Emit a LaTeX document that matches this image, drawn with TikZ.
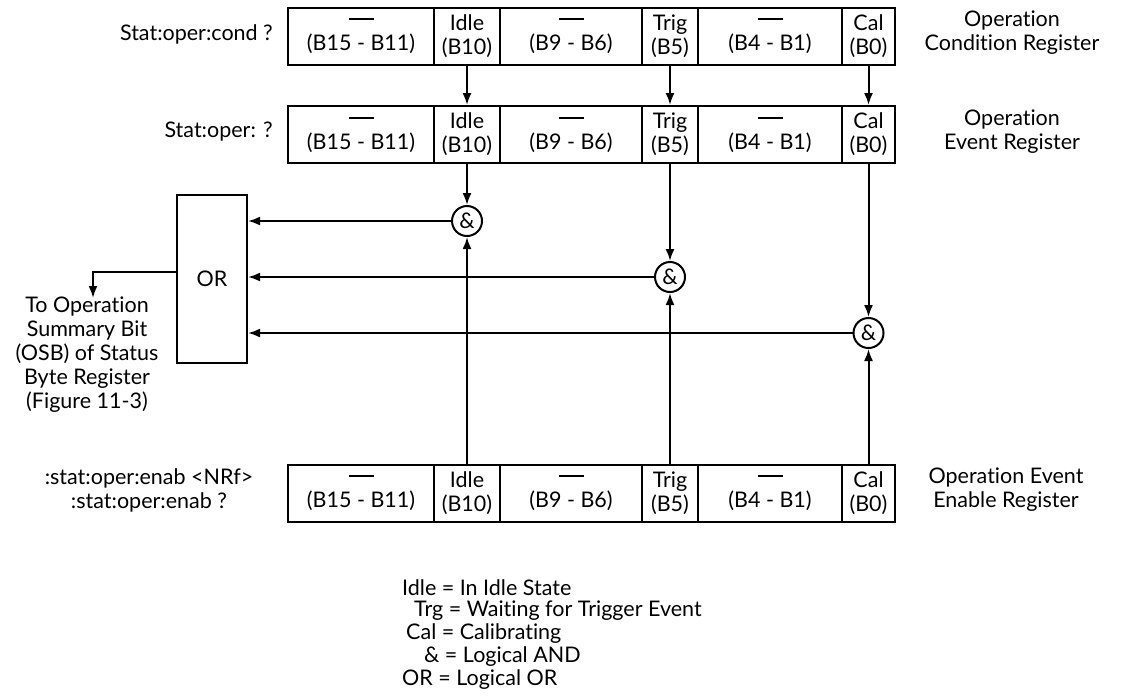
\documentclass[tikz,border=0pt]{standalone}
\usepackage{fontspec}
\setmainfont{Lato}[Ligatures=CommonOff]
\usetikzlibrary{arrows.meta}
\newcommand{\emdash}{\rule[0.3em]{25pt}{1.8pt}}
\begin{document}
\begin{tikzpicture}[x=1pt,y=-1pt,
  every node/.style={font=\fontsize{21.5}{24}\selectfont, inner sep=0pt},
  cell/.style={draw, line width=2pt, minimum height=57pt, align=center},
  andgate/.style={draw, circle, line width=2pt, minimum size=30pt},
  arr/.style={line width=2pt, -{Latex[length=12pt,width=9pt]}}]
\useasboundingbox (0,0) rectangle (1126,697);
% registers
\foreach \r/\y in {1/36, 2/134.5, 3/493}{
  \node[cell, minimum width=146pt] (r\r a) at (361,\y) {\emdash\\(B15 - B11)};
  \node[cell, minimum width=66pt]  (r\r b) at (467,\y) {Idle\\(B10)};
  \node[cell, minimum width=142pt] (r\r c) at (571,\y) {\emdash\\(B9 - B6)};
  \node[cell, minimum width=56pt]  (r\r d) at (670,\y) {Trig\\(B5)};
  \node[cell, minimum width=144pt] (r\r e) at (770,\y) {\emdash\\(B4 - B1)};
  \node[cell, minimum width=53pt]  (r\r f) at (868.5,\y) {Cal\\(B0)};
}
% labels
\node[anchor=east] (l1) at (273,34) {Stat:oper:cond ?};
\node[anchor=east] (l2) at (273,132) {Stat:oper: ?};
\node[align=center] (l3) at (149,490) {:stat:oper:enab <NRf>\\:stat:oper:enab ?};
\node[align=center] (n1) at (1012,33) {Operation\\Condition Register};
\node[align=center] (n2) at (1012,132) {Operation\\Event Register};
\node[align=center] (n3) at (1006,490) {Operation Event\\Enable Register};
% gates
\node[andgate] (g1) at (467,221) {\&};
\node[andgate] (g2) at (670,277) {\&};
\node[andgate] (g3) at (868.5,333) {\&};
\node[draw, line width=2pt, minimum width=70pt, minimum height=168pt] (or) at (212,279) {OR};
% connectors
\draw[arr] (r1b.south) -- (r2b.north);
\draw[arr] (r1d.south) -- (r2d.north);
\draw[arr] (r1f.south) -- (r2f.north);
\draw[arr] (r2b.south) -- (g1.north);
\draw[arr] (r2d.south) -- (g2.north);
\draw[arr] (r2f.south) -- (g3.north);
\draw[arr] (r3b.north) -- (g1.south);
\draw[arr] (r3d.north) -- (g2.south);
\draw[arr] (r3f.north) -- (g3.south);
\draw[arr] (g1.west) -- (g1.west -| or.east);
\draw[arr] (g2.west) -- (g2.west -| or.east);
\draw[arr] (g3.west) -- (g3.west -| or.east);
\coordinate (out) at (93,298);
\draw[arr] ([yshift=7pt]or.west) -| (out);
\node[align=center, anchor=north] (osb) at (87,297) {To Operation\\Summary Bit\\(OSB) of Status\\Byte Register\\(Figure 11-3)};
% legend
\node[anchor=west] (k1) at (402,588) {Idle = In Idle State};
\node[anchor=west] (k2) at (414,611) {Trg = Waiting for Trigger Event};
\node[anchor=west] (k3) at (406,634) {Cal = Calibrating};
\node[anchor=west] (k4) at (424,657) {\& = Logical AND};
\node[anchor=west] (k5) at (402,680) {OR = Logical OR};
\end{tikzpicture}
\end{document}
